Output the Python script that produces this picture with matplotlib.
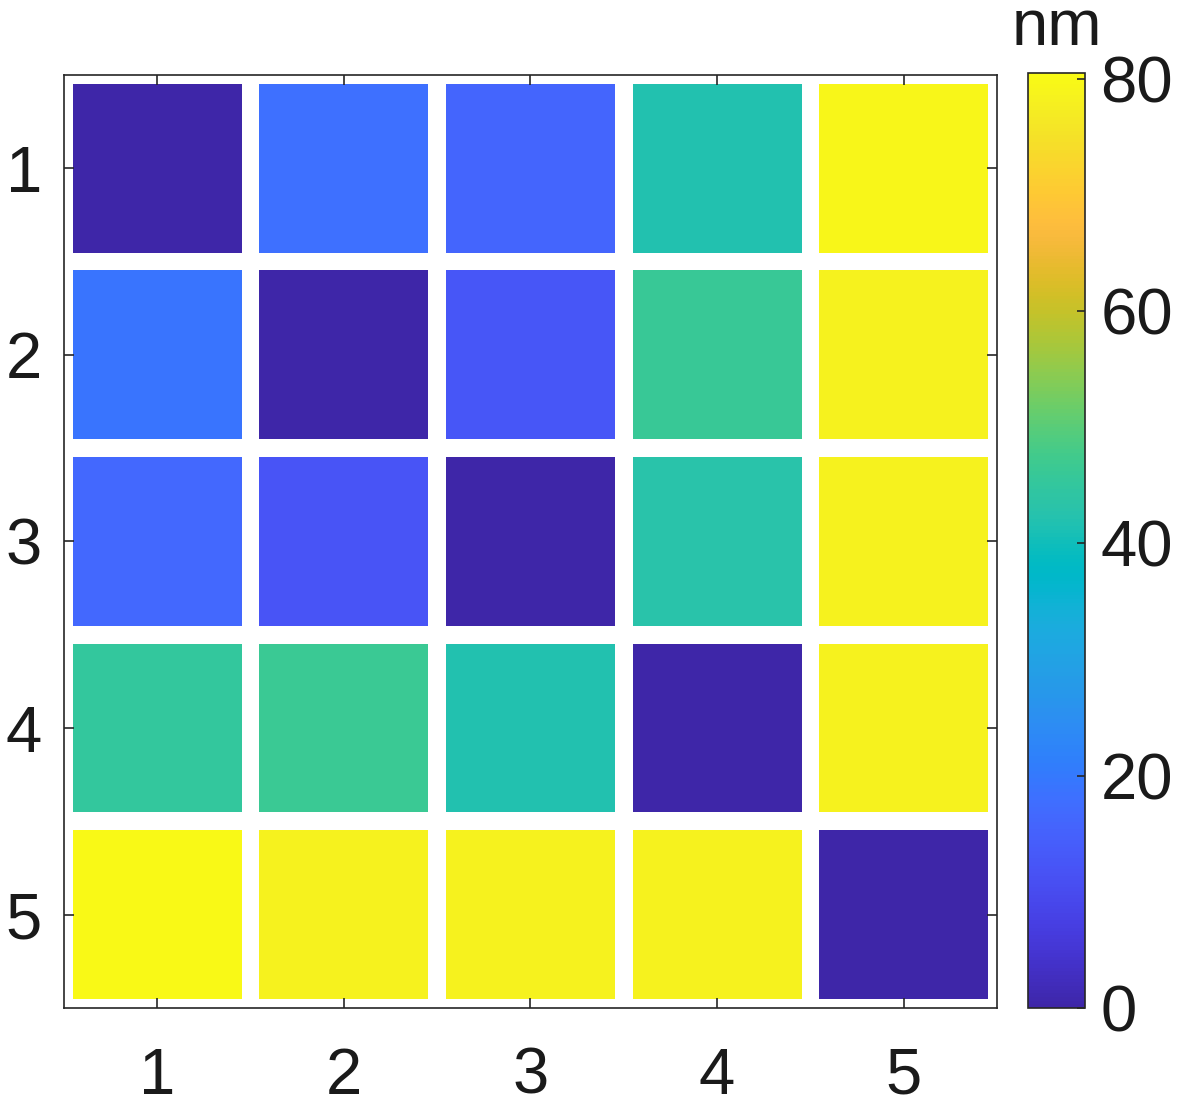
import numpy as np
import matplotlib.pyplot as plt
from matplotlib.colors import LinearSegmentedColormap, Normalize
from matplotlib.patches import Rectangle
from matplotlib.collections import PatchCollection

plt.rcParams['font.family'] = ['Liberation Sans', 'DejaVu Sans']

# parula (MATLAB) colour table, 64 steps
parula_rgb = [
    [0.2422, 0.1504, 0.6603], [0.2504, 0.1650, 0.7076], [0.2578, 0.1818, 0.7511],
    [0.2647, 0.1978, 0.7952], [0.2706, 0.2147, 0.8364], [0.2751, 0.2342, 0.8710],
    [0.2783, 0.2559, 0.8991], [0.2803, 0.2782, 0.9221], [0.2813, 0.3006, 0.9414],
    [0.2810, 0.3228, 0.9579], [0.2795, 0.3447, 0.9717], [0.2760, 0.3667, 0.9829],
    [0.2699, 0.3892, 0.9906], [0.2602, 0.4123, 0.9952], [0.2440, 0.4358, 0.9988],
    [0.2206, 0.4603, 0.9973], [0.1963, 0.4847, 0.9892], [0.1834, 0.5074, 0.9798],
    [0.1786, 0.5289, 0.9682], [0.1764, 0.5499, 0.9520], [0.1687, 0.5703, 0.9359],
    [0.1540, 0.5902, 0.9218], [0.1460, 0.6091, 0.9079], [0.1380, 0.6276, 0.8973],
    [0.1248, 0.6459, 0.8883], [0.1113, 0.6635, 0.8763], [0.0952, 0.6798, 0.8598],
    [0.0689, 0.6948, 0.8394], [0.0297, 0.7082, 0.8163], [0.0036, 0.7203, 0.7917],
    [0.0067, 0.7312, 0.7660], [0.0433, 0.7411, 0.7394], [0.0964, 0.7500, 0.7120],
    [0.1408, 0.7584, 0.6842], [0.1717, 0.7670, 0.6554], [0.1938, 0.7758, 0.6251],
    [0.2161, 0.7843, 0.5923], [0.2470, 0.7918, 0.5567], [0.2906, 0.7973, 0.5188],
    [0.3406, 0.8008, 0.4789], [0.3909, 0.8029, 0.4354], [0.4456, 0.8024, 0.3909],
    [0.5044, 0.7993, 0.3480], [0.5616, 0.7942, 0.3045], [0.6174, 0.7876, 0.2612],
    [0.6720, 0.7793, 0.2227], [0.7242, 0.7698, 0.1910], [0.7738, 0.7598, 0.1646],
    [0.8203, 0.7498, 0.1535], [0.8634, 0.7406, 0.1596], [0.9035, 0.7330, 0.1774],
    [0.9393, 0.7288, 0.2100], [0.9728, 0.7298, 0.2394], [0.9956, 0.7434, 0.2371],
    [0.9970, 0.7659, 0.2199], [0.9952, 0.7893, 0.2028], [0.9892, 0.8136, 0.1885],
    [0.9786, 0.8386, 0.1766], [0.9676, 0.8639, 0.1643], [0.9610, 0.8890, 0.1537],
    [0.9597, 0.9135, 0.1423], [0.9628, 0.9373, 0.1265], [0.9691, 0.9606, 0.1064],
    [0.9769, 0.9839, 0.0805],
]
parula = LinearSegmentedColormap.from_list('parula', parula_rgb, N=256)

labels = [1, 2, 3, 4, 5]
cbar_ticks = [0, 20, 40, 60, 80]
# distance matrix (nm), row i = y label, column j = x label
dist = np.array([
    [0.0, 18.0, 16.0, 42.0, 79.5],
    [19.0, 0.0, 12.5, 46.0, 78.5],
    [16.5, 12.0, 0.0, 43.0, 78.5],
    [45.0, 46.5, 42.0, 0.0, 78.5],
    [80.0, 78.5, 78.5, 78.5, 0.0],
])

fig = plt.figure(figsize=(11.79, 11.08), dpi=100)
ax = fig.add_axes([0.0543, 0.0903, 0.7913, 0.842])
cax = fig.add_axes([0.872, 0.0903, 0.0483, 0.8438])

size = 0.905
rects = []
vals = []
for i in range(len(labels)):
    for j in range(len(labels)):
        rects.append(Rectangle((labels[j] - size / 2, labels[i] - size / 2), size, size))
        vals.append(dist[i, j])
pc = PatchCollection(rects, cmap=parula, norm=Normalize(0, 80.5), edgecolor='none')
pc.set_array(np.array(vals))
ax.add_collection(pc)

fs = 47
ax.set_xlim(0.5, 5.5)
ax.set_ylim(5.5, 0.5)
ax.set_xticks(labels)
ax.set_yticks(labels)
edge = '#262626'
for s in ax.spines.values():
    s.set_color(edge)
    s.set_linewidth(1.2)
ax.tick_params(axis='both', direction='in', length=7, width=1.2, color=edge,
               labelsize=fs, labelcolor='#1a1a1a', top=True, right=True)
ax.tick_params(axis='x', pad=28)
ax.tick_params(axis='y', pad=16)

cb = fig.colorbar(pc, cax=cax, ticks=cbar_ticks)
cb.outline.set_edgecolor(edge)
cb.outline.set_linewidth(1.2)
cax.tick_params(direction='in', length=6, width=1.2, color=edge,
                labelsize=fs, labelcolor='#1a1a1a', pad=11)
cax.set_title('nm', fontsize=fs, color='#1a1a1a', pad=20)

fig.savefig('out.png', dpi=100)
